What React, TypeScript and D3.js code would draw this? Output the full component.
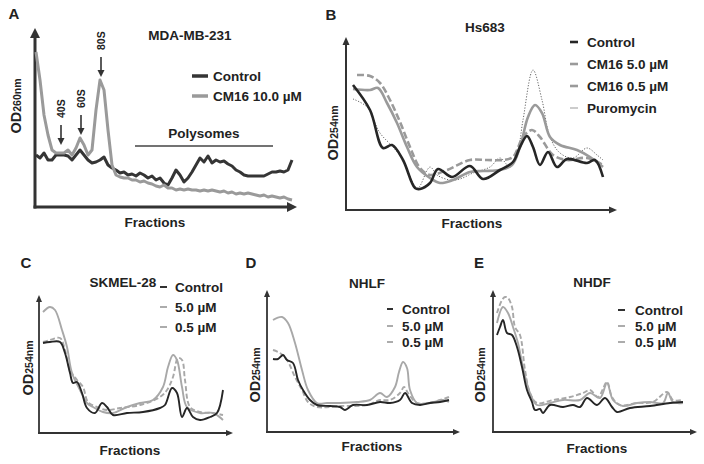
import React, { useEffect, useRef } from "react";
import * as d3 from "d3";

const FONT = '"Liberation Sans", Arial, Helvetica, sans-serif';
const INK = "#222222";
const AXIS = "#333333";
const DARK = "#262626";
const GRAY = "#9a9a9a";
const LIGHT = "#a8a8a8";

type Pt = [number, number];

// ---------- Panel A: MDA-MB-231 (traces along the gradient) ----------
const aPositions = d3.range(65).map((i) => 1 + 4 * i);
const aControl = [
  52, 49, 54, 47, 47, 52, 52, 52, 51, 47,
  52, 57, 52, 47, 44, 45, 47, 50, 42, 39,
  37, 34, 35, 32, 33, 31, 34, 32, 29, 31,
  27, 29, 24, 22, 29, 37, 32, 25, 29, 35,
  42, 49, 45, 51, 44, 47, 45, 46, 43, 41,
  37, 35, 32, 31, 31, 31, 31, 31, 33, 35,
  35, 36, 35, 37, 47,
];
const aCM16 = [
  155, 127, 92, 72, 57, 54, 54, 54, 57, 52,
  59, 69, 62, 52, 57, 97, 127, 117, 77, 42,
  32, 30, 29, 29, 27, 27, 25, 26, 24, 23,
  21, 20, 22, 19, 19, 17, 18, 17, 18, 17,
  17, 16, 17, 16, 17, 16, 15, 16, 14, 15,
  13, 14, 13, 14, 13, 12, 11, 12, 10, 11,
  10, 9, 10, 8, 7,
];
const aPeakLabels = ["40S", "60S", "80S"];
const aPeakX = [26, 46, 66];
const aPeakY = [62, 72, 130];
const aPolysomeRange = [100, 238];
const aPolysomeLevel = 61;

// ---------- Panel B: Hs683 ----------
const bControl: Pt[] = [[7,125],[24,100],[37,62],[46,65],[57,50],[69,22],[74,21],[84,27],[92,41],[106,33],[124,44],[137,31],[154,40],[167,48],[174,63],[181,74],[187,63],[194,45],[202,58],[211,43],[221,51],[241,47],[249,50],[257,33]];
const bCM16_5: Pt[] = [[7,121],[24,120],[32,122],[41,107],[51,87],[61,63],[71,43],[84,32],[94,27],[107,30],[124,38],[137,39],[154,40],[166,45],[174,63],[182,93],[189,105],[196,97],[204,73],[214,65],[231,60],[244,53],[257,43]];
const bCM16_05: Pt[] = [[11,135],[24,134],[34,127],[44,110],[54,88],[64,63],[74,42],[84,35],[101,40],[124,50],[141,50],[157,50],[167,53],[177,73],[186,80],[194,73],[207,55],[221,50],[241,52],[257,45]];
const bPuromycin: Pt[] = [[7,111],[21,103],[34,77],[47,63],[57,50],[67,27],[72,22],[84,43],[91,35],[104,30],[114,31],[127,37],[144,43],[154,52],[164,43],[171,55],[177,90],[187,140],[196,110],[204,73],[214,57],[227,52],[241,62],[251,55],[257,50]];

// ---------- Panel C: SKMEL-28 ----------
const cControl: Pt[] = [[4,90],[11,91],[21,91],[26,80],[31,60],[34,50],[38,51],[43,40],[48,25],[56,20],[63,30],[68,26],[74,18],[88,20],[104,21],[121,25],[126,28],[133,45],[138,40],[143,16],[148,25],[154,16],[161,13],[171,16],[178,20],[184,43]];
const cDose5: Pt[] = [[4,121],[11,126],[16,123],[23,103],[28,86],[33,60],[41,43],[48,30],[54,26],[64,21],[74,20],[88,26],[101,30],[114,33],[124,46],[129,66],[134,78],[138,73],[143,46],[148,26],[161,20],[174,20],[184,13]];
const cDose05: Pt[] = [[4,91],[11,93],[21,95],[26,83],[31,63],[38,53],[44,46],[49,31],[58,26],[68,23],[81,25],[101,28],[121,36],[128,43],[134,56],[139,75],[143,73],[146,53],[151,26],[161,21],[174,20],[184,18]];

// ---------- Panel D: NHLF ----------
const dControl: Pt[] = [[6,73],[11,73],[16,77],[20,72],[26,69],[31,52],[36,42],[43,32],[50,27],[63,26],[73,25],[78,22],[86,27],[100,27],[113,30],[123,29],[133,32],[138,39],[145,29],[153,27],[163,29],[173,30],[182,32]];
const dDose5: Pt[] = [[6,112],[15,115],[21,109],[28,89],[35,62],[41,42],[50,29],[60,29],[73,29],[90,30],[103,32],[113,39],[120,35],[128,45],[132,60],[136,70],[140,64],[143,42],[150,29],[163,29],[176,32],[182,30]];
const dDose05: Pt[] = [[6,82],[13,79],[20,72],[28,55],[35,42],[41,30],[50,25],[73,26],[100,27],[113,32],[123,32],[133,39],[137,45],[141,39],[150,29],[166,30],[182,35]];

// ---------- Panel E: NHDF ----------
const eControl: Pt[] = [[4,97],[7,105],[10,112],[14,99],[19,97],[24,85],[29,65],[34,42],[39,30],[42,22],[47,23],[50,19],[57,27],[70,25],[80,27],[87,25],[94,34],[104,27],[112,34],[119,25],[124,20],[137,24],[157,26],[177,29],[190,30]];
const eDose5: Pt[] = [[4,109],[10,125],[15,119],[20,105],[25,89],[30,65],[37,39],[44,27],[57,29],[70,32],[87,32],[97,39],[107,34],[114,49],[120,32],[130,26],[144,29],[157,30],[170,29],[175,39],[180,30],[190,29]];
const eDose05: Pt[] = [[4,119],[9,132],[12,135],[15,134],[19,125],[22,105],[27,97],[32,62],[37,39],[44,29],[60,32],[77,35],[90,39],[97,42],[105,35],[114,50],[119,35],[127,27],[144,29],[160,30],[174,40],[180,32],[190,32]];

const legendA = ["Control", "CM16 10.0 µM"];
const legendB = ["Control", "CM16 5.0 µM", "CM16 0.5 µM", "Puromycin"];
const legendDose = ["Control", "5.0 µM", "0.5 µM"];

interface Frame {
  x0: number; x1: number; yBase: number; yTop: number;
}

interface Style { color: string; width: number; dash?: string }

function App() {
  const ref = useRef<SVGSVGElement>(null);

  useEffect(() => {
    const svg = d3.select(ref.current);
    svg.selectAll("*").remove();

    const scalesFor = (f: Frame) => ({
      x: d3.scaleLinear().domain([0, f.x1 - f.x0]).range([f.x0, f.x1]),
      y: d3.scaleLinear().domain([0, f.yBase - f.yTop]).range([f.yBase, f.yTop]),
    });

    const drawAxes = (f: Frame, w: number, head: number, half: number) => {
      const g = svg.append("g");
      g.append("line").attr("x1", f.x0).attr("y1", f.yBase + w / 2)
        .attr("x2", f.x0).attr("y2", f.yTop + head - 1)
        .attr("stroke", AXIS).attr("stroke-width", w);
      g.append("line").attr("x1", f.x0 - w / 2).attr("y1", f.yBase)
        .attr("x2", f.x1 - head + 1).attr("y2", f.yBase)
        .attr("stroke", AXIS).attr("stroke-width", w);
      g.append("path")
        .attr("d", `M${f.x0},${f.yTop} L${f.x0 - half},${f.yTop + head} L${f.x0 + half},${f.yTop + head} Z`)
        .attr("fill", AXIS);
      g.append("path")
        .attr("d", `M${f.x1},${f.yBase} L${f.x1 - head},${f.yBase - half} L${f.x1 - head},${f.yBase + half} Z`)
        .attr("fill", AXIS);
    };

    const text = (x: number, y: number, s: string, size: number, anchor = "middle") =>
      svg.append("text").attr("x", x).attr("y", y).attr("dy", "0.35em")
        .attr("text-anchor", anchor).attr("font-family", FONT)
        .attr("font-weight", "bold").attr("font-size", size).attr("fill", INK).text(s);

    const odLabel = (x: number, cy: number, sub: string) => {
      const t = svg.append("text")
        .attr("transform", `translate(${x},${cy}) rotate(-90)`)
        .attr("text-anchor", "middle").attr("font-family", FONT)
        .attr("font-weight", "bold").attr("fill", INK);
      t.append("tspan").attr("font-size", 14.5).text("OD");
      t.append("tspan").attr("font-size", 10.5).text(sub);
    };

    const drawSeries = (f: Frame, pts: Pt[], st: Style, curve: d3.CurveFactory) => {
      const { x, y } = scalesFor(f);
      const line = d3.line<Pt>().x((d) => x(d[0])).y((d) => y(d[1])).curve(curve);
      svg.append("path").attr("d", line(pts) as string)
        .attr("fill", "none").attr("stroke", st.color)
        .attr("stroke-width", st.width)
        .attr("stroke-dasharray", st.dash ?? null)
        .attr("stroke-linejoin", "round");
    };

    const legend = (labels: string[], styles: Style[], mx0: number, mx1: number, tx: number, ys: number[]) => {
      labels.forEach((lab, i) => {
        const st = styles[i];
        svg.append("line").attr("x1", mx0).attr("x2", mx1).attr("y1", ys[i]).attr("y2", ys[i])
          .attr("stroke", st.color).attr("stroke-width", Math.max(st.width, 1.2));
        text(tx, ys[i], lab, 13.5, "start");
      });
    };

    // ===================== Panel A =====================
    const fA: Frame = { x0: 35, x1: 297, yBase: 207, yTop: 28 };
    drawAxes(fA, 3, 10, 5);
    const aCtrlPts: Pt[] = aPositions.map((p, i) => [p, aControl[i]]);
    const aCmPts: Pt[] = aPositions.map((p, i) => [p, aCM16[i]]);
    drawSeries(fA, aCtrlPts, { color: "#353535", width: 3 }, d3.curveLinear);
    drawSeries(fA, aCmPts, { color: GRAY, width: 3 }, d3.curveLinear);
    {
      const { x, y } = scalesFor(fA);
      aPeakLabels.forEach((lab, i) => {
        const px = x(aPeakX[i]);
        const tip = y(aPeakY[i]);
        svg.append("line").attr("x1", px).attr("x2", px).attr("y1", tip - 20).attr("y2", tip - 4)
          .attr("stroke", AXIS).attr("stroke-width", 1.6);
        svg.append("path").attr("d", `M${px},${tip} L${px - 3.5},${tip - 7} L${px + 3.5},${tip - 7} Z`).attr("fill", AXIS);
        svg.append("text")
          .attr("transform", `translate(${px + 3.5},${tip - 27}) rotate(-90)`)
          .attr("text-anchor", "start").attr("font-family", FONT).attr("font-weight", "bold")
          .attr("font-size", 10.5).attr("fill", INK).text(lab);
      });
      svg.append("line").attr("x1", x(aPolysomeRange[0])).attr("x2", x(aPolysomeRange[1]))
        .attr("y1", y(aPolysomeLevel)).attr("y2", y(aPolysomeLevel))
        .attr("stroke", "#444").attr("stroke-width", 1.5);
      text((x(aPolysomeRange[0]) + x(aPolysomeRange[1])) / 2, y(aPolysomeLevel) - 13, "Polysomes", 13.5);
    }
    text(14, 14, "A", 15);
    text(190, 35, "MDA-MB-231", 13.5);
    legend(legendA, [{ color: "#353535", width: 3.5 }, { color: GRAY, width: 3.5 }], 192, 208, 213, [76, 96]);
    odLabel(21, 106, "260nm");
    text(155, 222, "Fractions", 13.5);

    // ===================== Panel B =====================
    const fB: Frame = { x0: 346, x1: 617, yBase: 210, yTop: 37 };
    drawAxes(fB, 2, 8, 3.5);
    const stB: Style[] = [
      { color: DARK, width: 2.6 },
      { color: GRAY, width: 2.6 },
      { color: GRAY, width: 2.6, dash: "7,3" },
      { color: "#555", width: 0.9, dash: "1.2,1.6" },
    ];
    drawSeries(fB, bPuromycin, stB[3], d3.curveCatmullRom);
    drawSeries(fB, bCM16_05, stB[2], d3.curveCatmullRom);
    drawSeries(fB, bCM16_5, stB[1], d3.curveCatmullRom);
    drawSeries(fB, bControl, stB[0], d3.curveCatmullRom);
    text(331, 15, "B", 15);
    text(485, 27, "Hs683", 13.5);
    legend(legendB, [stB[0], stB[1], { color: GRAY, width: 2.6 }, { color: "#aaa", width: 1 }], 570, 578, 587, [42, 64, 86, 108]);
    odLabel(338, 133, "254nm");
    text(472, 223, "Fractions", 13.5);

    // ===================== Panels C, D, E =====================
    const stDose: Style[] = [
      { color: DARK, width: 1.9 },
      { color: LIGHT, width: 1.9 },
      { color: LIGHT, width: 1.9, dash: "5,2.5" },
    ];
    const small = [
      { f: { x0: 39, x1: 233, yBase: 433, yTop: 295 }, s: [cControl, cDose5, cDose05], letter: "C", lx: 26, title: "SKMEL-28", tx: 123, ty: 282,
        lg: [160, 167, 175, [287, 307, 327]], od: [33, 368], fr: [130, 450] },
      { f: { x0: 267, x1: 460, yBase: 432, yTop: 290 }, s: [dControl, dDose5, dDose05], letter: "D", lx: 251, title: "NHLF", tx: 367, ty: 283,
        lg: [387, 393, 402, [309, 326, 342]], od: [260, 375], fr: [372, 446] },
      { f: { x0: 493, x1: 697, yBase: 432, yTop: 290 }, s: [eControl, eDose5, eDose05], letter: "E", lx: 479, title: "NHDF", tx: 592, ty: 282,
        lg: [618, 625, 635, [310, 326, 342]], od: [485, 375], fr: [597, 448] },
    ];
    small.forEach((p) => {
      drawAxes(p.f, 1.8, 7, 3);
      drawSeries(p.f, p.s[2], stDose[2], d3.curveCatmullRom);
      drawSeries(p.f, p.s[1], stDose[1], d3.curveCatmullRom);
      drawSeries(p.f, p.s[0], stDose[0], d3.curveCatmullRom);
      text(p.lx, 263, p.letter, 15);
      text(p.tx, p.ty, p.title, 13.5);
      const [m0, m1, tx, ys] = p.lg as [number, number, number, number[]];
      legend(legendDose, [stDose[0], stDose[1], { color: LIGHT, width: 1.9, dash: "3,2" }], m0, m1, tx, ys);
      odLabel(p.od[0], p.od[1], "254nm");
      text(p.fr[0], p.fr[1], "Fractions", 13.5);
    });
  }, []);

  return (
    <svg ref={ref} width={704} height={464}
      style={{ position: "absolute", left: 0, top: 0, background: "#fff" }} />
  );
}

export default App;
